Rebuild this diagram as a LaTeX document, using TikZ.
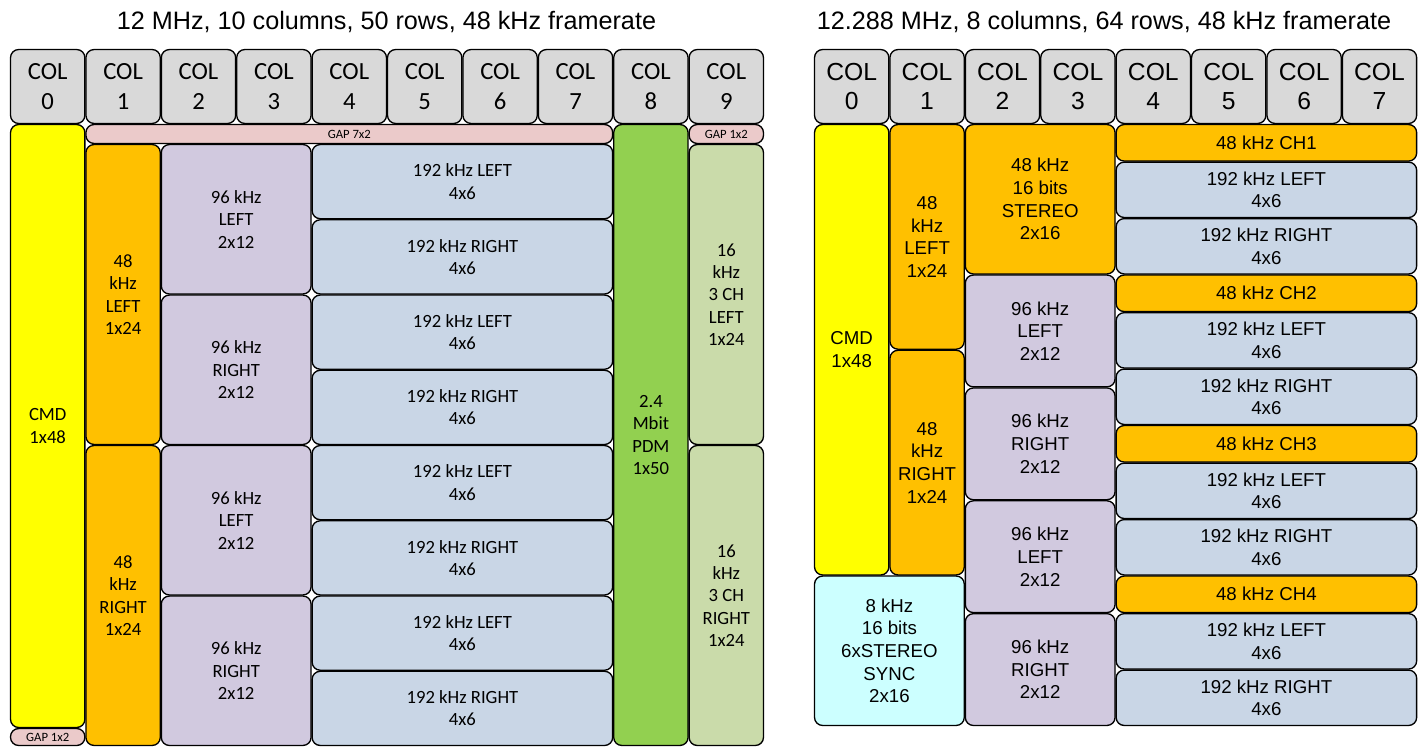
\documentclass[tikz,border=0pt]{standalone}
\usepackage{fontspec}
\newfontfamily\calfont{Carlito}
\newfontfamily\arifont{Liberation Sans}
\definecolor{hdr}{HTML}{D9D9D9}
\definecolor{yel}{HTML}{FFFF00}
\definecolor{org}{HTML}{FFC000}
\definecolor{lav}{HTML}{D1C9DF}
\definecolor{blu}{HTML}{C9D6E6}
\definecolor{grn}{HTML}{92D050}
\definecolor{lgr}{HTML}{CADBAA}
\definecolor{pnk}{HTML}{EBCACA}
\definecolor{cyn}{HTML}{CCFFFF}
\newcommand\bx[7]{\node[#6, minimum width={((#4)-(#2)-1.1)*0.75pt}, minimum height={((#5)-(#3)-1.1)*0.75pt}] (#1) at ({((#2)+(#4))/2},{((#3)+(#5))/2}) {#7};}
\begin{document}
\begin{tikzpicture}[x=0.75pt,y=-0.75pt,
  box/.style={draw=black, line width=1pt, rounded corners=6pt, inner sep=0pt, outer sep=0pt, align=center, text=black},
  hdrL/.style={box, fill=hdr, font=\calfont\fontsize{18.5}{22}\selectfont},
  hdrR/.style={box, fill=hdr, font=\arifont\fontsize{18.5}{21.75}\selectfont},
  inL/.style={box, font=\calfont\fontsize{14}{16.8}\selectfont},
  inR/.style={box, font=\arifont\fontsize{14}{17}\selectfont},
  gapL/.style={box, fill=pnk, font=\calfont\fontsize{9.5}{11}\selectfont},
  ttl/.style={inner sep=0pt, anchor=base, font=\arifont\fontsize{18.9}{22}\selectfont}
]
\useasboundingbox (0,0) rectangle (1422,747);
% titles
\node[ttl] (t1) at (386.5,29.3) {12 MHz, 10 columns, 50 rows, 48 kHz framerate};
\node[ttl] (t2) at (1104,29.3) {12.288 MHz, 8 columns, 64 rows, 48 kHz framerate};
% ---------- left diagram ----------
\foreach \i in {0,...,9}{\bx{lh\i}{10+75.4*\i}{49}{10+75.4*(\i+1)}{124}{hdrL}{COL\\\i}}
\bx{lcmd}{10}{124}{85.4}{728}{inL,fill=yel}{CMD\\1x48}
\bx{lgapb}{10}{728}{85.4}{746}{gapL}{GAP 1x2}
\bx{lgap7}{85.4}{124}{613.2}{144}{gapL}{GAP 7x2}
\bx{lgap9}{688.6}{124}{764}{144}{gapL}{GAP 1x2}
\bx{lpdm}{613.2}{124}{688.6}{746}{inL,fill=grn}{2.4\\Mbit\\PDM\\1x50}
\bx{l48l}{85.4}{144}{160.8}{445}{inL,fill=org}{48\\kHz\\LEFT\\1x24}
\bx{l48r}{85.4}{445}{160.8}{746}{inL,fill=org}{48\\kHz\\RIGHT\\1x24}
\bx{l96a}{160.8}{144}{311.6}{294.5}{inL,fill=lav}{96 kHz\\LEFT\\2x12}
\bx{l96b}{160.8}{294.5}{311.6}{445}{inL,fill=lav}{96 kHz\\RIGHT\\2x12}
\bx{l96c}{160.8}{445}{311.6}{595.5}{inL,fill=lav}{96 kHz\\LEFT\\2x12}
\bx{l96d}{160.8}{595.5}{311.6}{746}{inL,fill=lav}{96 kHz\\RIGHT\\2x12}
\foreach \k in {0,...,3}{
  \bx{l192l\k}{311.6}{144+150.5*\k}{613.2}{144+150.5*\k+75.25}{inL,fill=blu}{192 kHz LEFT\\4x6}
  \bx{l192r\k}{311.6}{144+150.5*\k+75.25}{613.2}{144+150.5*(\k+1)}{inL,fill=blu}{192 kHz RIGHT\\4x6}
}
\bx{l16l}{688.6}{144}{764}{445}{inL,fill=lgr}{16\\kHz\\3 CH\\LEFT\\1x24}
\bx{l16r}{688.6}{445}{764}{746}{inL,fill=lgr}{16\\kHz\\3 CH\\RIGHT\\1x24}
% ---------- right diagram ----------
\foreach \i in {0,...,7}{\bx{rh\i}{814+75.4*\i}{49}{814+75.4*(\i+1)}{124}{hdrR}{COL\\\i}}
\bx{rcmd}{814}{124}{889.4}{575.5}{inR,fill=yel}{CMD\\1x48}
\bx{rsync}{814}{575.5}{964.8}{726}{inR,fill=cyn}{8 kHz\\16 bits\\6xSTEREO\\SYNC\\2x16}
\bx{r48l}{889.4}{124}{964.8}{349.75}{inR,fill=org}{48\\kHz\\LEFT\\1x24}
\bx{r48r}{889.4}{349.75}{964.8}{575.5}{inR,fill=org}{48\\kHz\\RIGHT\\1x24}
\bx{rst}{964.8}{124}{1115.6}{274.5}{inR,fill=org}{48 kHz\\16 bits\\STEREO\\2x16}
\bx{r96a}{964.8}{274.5}{1115.6}{387.4}{inR,fill=lav}{96 kHz\\LEFT\\2x12}
\bx{r96b}{964.8}{387.4}{1115.6}{500.25}{inR,fill=lav}{96 kHz\\RIGHT\\2x12}
\bx{r96c}{964.8}{500.25}{1115.6}{613.1}{inR,fill=lav}{96 kHz\\LEFT\\2x12}
\bx{r96d}{964.8}{613.1}{1115.6}{726}{inR,fill=lav}{96 kHz\\RIGHT\\2x12}
\foreach \g [evaluate=\g as \n using int(\g+1)] in {0,...,3}{
  \bx{rch\g}{1115.6}{124+150.5*\g}{1417.2}{124+150.5*\g+37.6}{inR,fill=org}{48 kHz CH\n}
  \bx{r192l\g}{1115.6}{124+150.5*\g+37.6}{1417.2}{124+150.5*\g+94.05}{inR,fill=blu}{192 kHz LEFT\\4x6}
  \bx{r192r\g}{1115.6}{124+150.5*\g+94.05}{1417.2}{124+150.5*(\g+1)}{inR,fill=blu}{192 kHz RIGHT\\4x6}
}
\end{tikzpicture}
\end{document}
